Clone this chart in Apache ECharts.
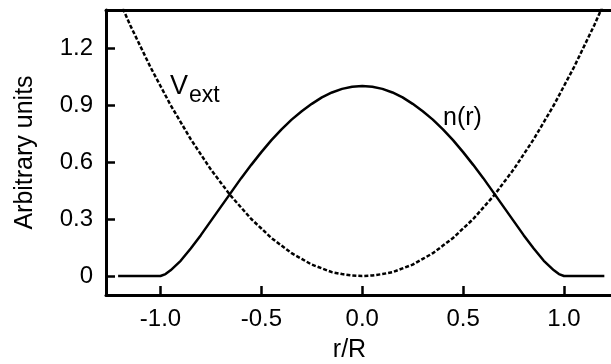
<!DOCTYPE html>
<html>
<head>
<meta charset="utf-8">
<script src="https://cdn.jsdelivr.net/npm/echarts@6/dist/echarts.min.js"></script>
<style>html,body{margin:0;padding:0;background:#fff}#c{width:611px;height:364px}</style>
</head>
<body>
<div id="c"></div>
<script>
// Density profile n(r)
var nR = [-1.21, -1.1, -1.0, -0.975, -0.95, -0.9, -0.85, -0.8, -0.75, -0.7, -0.65, -0.6, -0.55, -0.5, -0.45, -0.4, -0.35, -0.3, -0.25, -0.2, -0.15, -0.1, -0.05, 0,
          0.05, 0.1, 0.15, 0.2, 0.25, 0.3, 0.35, 0.4, 0.45, 0.5, 0.55, 0.6, 0.65, 0.7, 0.75, 0.8, 0.85, 0.9, 0.95, 0.975, 1.0, 1.1, 1.2];
var nVal = [0, 0, 0, 0.01, 0.03, 0.08, 0.145, 0.215, 0.29, 0.365, 0.44, 0.515, 0.585, 0.652, 0.715, 0.772, 0.823, 0.867, 0.906, 0.94, 0.966, 0.985, 0.996, 1.0,
            0.996, 0.985, 0.966, 0.94, 0.906, 0.867, 0.823, 0.772, 0.715, 0.652, 0.585, 0.515, 0.44, 0.365, 0.29, 0.215, 0.145, 0.08, 0.03, 0.01, 0, 0, 0];
// External potential V_ext
var vR = [-1.27, -1.25, -1.2, -1.15, -1.1, -1.05, -1.0, -0.95, -0.9, -0.85, -0.8, -0.75, -0.7, -0.65, -0.6, -0.55, -0.5, -0.45, -0.4, -0.35, -0.3, -0.25, -0.2, -0.15, -0.1, -0.05, 0,
          0.05, 0.1, 0.15, 0.2, 0.25, 0.3, 0.35, 0.4, 0.45, 0.5, 0.55, 0.6, 0.65, 0.7, 0.75, 0.8, 0.85, 0.9, 0.95, 1.0, 1.05, 1.1, 1.15, 1.2, 1.233];
var vVal = [1.61, 1.56, 1.44, 1.32, 1.21, 1.10, 1.00, 0.90, 0.81, 0.72, 0.64, 0.56, 0.49, 0.42, 0.36, 0.30, 0.25, 0.20, 0.16, 0.12, 0.09, 0.06, 0.04, 0.02, 0.01, 0.003, 0,
            0.003, 0.01, 0.02, 0.04, 0.06, 0.09, 0.12, 0.16, 0.20, 0.25, 0.30, 0.36, 0.42, 0.49, 0.56, 0.64, 0.72, 0.81, 0.90, 1.00, 1.10, 1.21, 1.32, 1.44, 1.52];
var xTicks = [-1.0, -0.5, 0.0, 0.5, 1.0];
var yTicks = [0, 0.3, 0.6, 0.9, 1.2];

var FONT = 'Liberation Sans';
function pairs(xs, ys) { return xs.map(function (x, i) { return [x, ys[i]]; }); }

var chart = echarts.init(document.getElementById('c'), null, {renderer: 'canvas'});
chart.setOption({
  animation: false,
  backgroundColor: '#fff',
  grid: {left: 106, right: 0, top: 10, bottom: 69, containLabel: false, outerBoundsMode: 'none'},
  xAxis: [{
    type: 'value', min: -1.27, max: 1.233,
    axisLine: {show: true, onZero: false, lineStyle: {color: '#000', width: 3}},
    axisTick: {show: true, inside: true, length: 9, customValues: xTicks, lineStyle: {color: '#000', width: 2.5}},
    axisLabel: {customValues: xTicks, formatter: function (v) { return v.toFixed(1); }, fontSize: 24, fontFamily: FONT, color: '#000', margin: 12},
    splitLine: {show: false},
    name: 'r/R', nameLocation: 'middle', nameGap: 43,
    nameTextStyle: {fontSize: 25, fontFamily: FONT, color: '#000', padding: [0, 18, 0, 0]}
  }, {
    type: 'value', position: 'top', min: -1.27, max: 1.233,
    axisLine: {show: true, onZero: false, lineStyle: {color: '#000', width: 3}},
    axisTick: {show: false}, axisLabel: {show: false}, splitLine: {show: false}
  }],
  yAxis: {
    type: 'value', min: -0.1, max: 1.4,
    axisLine: {show: true, onZero: false, lineStyle: {color: '#000', width: 3}},
    axisTick: {show: true, inside: true, length: 9, customValues: yTicks, lineStyle: {color: '#000', width: 2.5}},
    axisLabel: {customValues: yTicks, formatter: function (v) { return v === 0 ? '0' : v.toFixed(1); }, fontSize: 24, fontFamily: FONT, color: '#000', margin: 13},
    splitLine: {show: false},
    name: 'Arbitrary units', nameLocation: 'middle', nameGap: 68,
    nameTextStyle: {fontSize: 25, fontFamily: FONT, color: '#000'}
  },
  series: [{
    type: 'line', name: 'n(r)', xAxisIndex: 0, data: pairs(nR, nVal), showSymbol: false, symbol: 'none',
    lineStyle: {color: '#000', width: 2.5}, clip: true
  }, {
    type: 'line', name: 'Vext', xAxisIndex: 0, data: pairs(vR, vVal), showSymbol: false, symbol: 'none',
    lineStyle: {color: '#000', width: 2.5, type: [4, 2]}, clip: true
  }],
  graphic: [
    {type: 'text', x: 170, y: 87, style: {text: 'V', fontSize: 27, fontFamily: FONT, fill: '#000', verticalAlign: 'middle'}},
    {type: 'text', x: 189, y: 96, style: {text: 'ext', fontSize: 23, fontFamily: FONT, fill: '#000', verticalAlign: 'middle'}},
    {type: 'text', x: 443, y: 118, style: {text: 'n(r)', fontSize: 25, fontFamily: FONT, fill: '#000', verticalAlign: 'middle'}}
  ]
});
</script>
</body>
</html>
